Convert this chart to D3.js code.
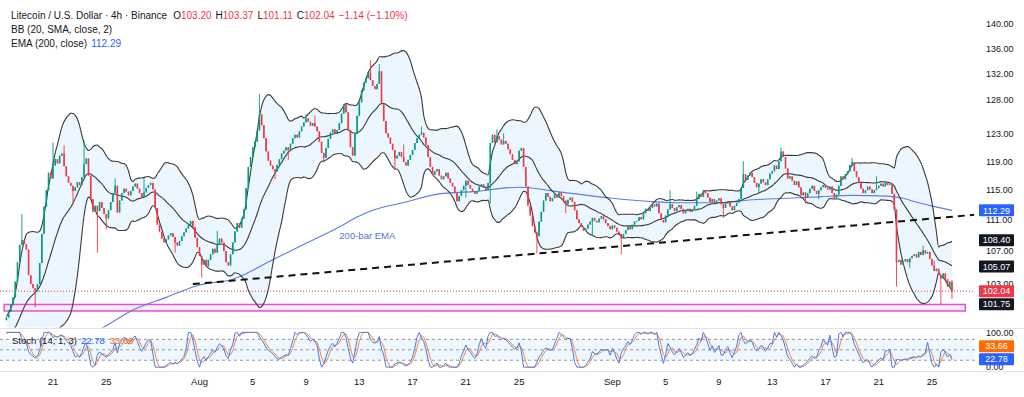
<!DOCTYPE html>
<html><head><meta charset="utf-8">
<script src="https://cdn.jsdelivr.net/npm/d3@7"></script>
<style>
body{margin:0;background:#fff;}
svg text{font-family:"Liberation Sans",Arial,sans-serif;}
</style>
</head><body>
<svg id="c" width="1024" height="397"></svg>
<script>
// ---------------- DATA ----------------
const firstIndex = -21;            // index of first visible 4h candle (0 = 21 Jul 2025 00:00 UTC)
const warmup = [94.6,95.1,94.8,95.4,95.0,95.7,96.2,95.8,96.4,96.0,96.7,97.1,96.6,97.3,97.0,97.6,98.2,97.9,98.6];
const closes = [
98.9,99.6,100.4,101.3,103.2,105.6,107.8,108.4,107.9,107.2,
104.0,102.9,102.4,102.0,102.9,105.5,109.2,112.8,115.0,117.4,
116.6,118.4,119.3,118.7,119.8,120.1,118.3,116.9,116.0,115.6,
114.9,115.4,116.1,115.7,116.8,118.6,119.4,117.0,113.8,112.1,
112.9,112.2,113.4,112.6,111.8,111.2,112.3,113.4,114.6,115.6,
112.0,113.6,114.6,115.2,114.8,114.3,114.9,115.5,115.9,115.2,
114.6,114.1,114.7,115.3,115.7,116.0,115.1,112.6,110.4,109.5,
108.6,108.1,108.5,109.0,109.3,108.8,108.1,107.7,108.3,108.9,
109.4,109.9,110.4,110.9,110.1,108.7,107.5,106.4,105.3,105.9,
105.1,105.9,106.6,107.3,106.8,107.8,108.6,108.1,107.0,105.6,
105.2,106.6,108.1,109.5,110.6,110.0,111.2,112.4,115.3,118.2,
119.6,121.0,121.8,123.4,125.8,124.2,122.3,120.4,119.1,118.4,
117.9,117.6,118.5,119.3,120.1,120.5,121.0,120.6,121.5,122.3,
122.8,122.4,123.3,124.0,124.6,125.2,124.7,124.1,124.5,124.0,
123.3,121.8,120.2,119.5,120.9,122.2,123.1,123.6,122.9,123.5,
124.5,125.9,127.3,126.1,123.4,121.0,119.8,122.9,125.6,127.6,
129.4,130.6,131.3,132.2,131.0,130.1,129.6,130.4,132.4,127.3,
124.8,123.0,122.4,121.5,120.6,119.4,119.8,120.3,119.6,118.9,
118.4,119.2,119.9,120.6,121.6,122.3,122.8,123.1,122.4,121.3,
119.6,118.2,117.1,117.6,117.9,117.0,116.5,116.9,117.4,116.6,
116.0,115.5,114.6,113.5,114.2,115.0,115.6,116.3,115.7,115.2,
114.8,114.5,114.9,115.5,115.8,115.3,115.0,116.0,121.6,122.8,
121.7,122.6,122.1,121.4,121.9,121.5,120.7,120.0,119.2,118.6,
119.0,120.5,120.9,118.2,115.5,112.9,111.6,110.2,109.4,108.9,
110.8,112.1,113.6,114.6,114.1,113.5,113.9,114.4,114.0,114.7,
114.2,113.6,113.1,113.7,114.0,113.4,112.3,111.1,110.6,110.1,
109.6,109.9,110.4,110.8,111.3,110.9,110.7,111.2,111.5,111.1,
110.6,110.2,109.8,110.3,110.0,109.5,109.2,108.6,109.2,109.7,
110.2,109.8,110.4,110.8,110.9,111.4,111.1,111.9,112.5,112.2,
112.6,113.1,112.8,113.2,111.9,111.0,110.7,111.6,112.4,113.1,
112.6,112.2,112.7,113.0,112.5,111.9,112.2,112.5,112.1,112.4,
112.9,113.8,114.5,114.1,115.0,114.6,114.0,113.4,113.8,113.2,
113.6,113.9,113.1,112.6,113.2,113.5,112.8,112.3,112.9,113.3,
113.8,115.3,117.2,116.4,117.0,117.4,116.8,116.0,115.4,115.9,
116.5,116.1,115.7,116.5,117.3,117.6,118.4,117.9,119.0,120.4,
119.6,118.0,116.6,116.9,116.3,115.7,116.2,115.4,114.3,114.7,
114.0,114.6,115.2,115.6,114.9,114.5,115.0,115.4,115.7,115.3,
115.1,115.5,114.6,113.9,114.4,115.6,116.9,116.5,117.2,117.6,
118.5,118.9,117.6,116.8,116.0,115.2,114.6,115.0,115.5,115.1,
114.6,115.0,115.3,115.6,115.9,115.5,116.0,115.7,115.8,114.5,
112.4,105.6,105.9,105.3,105.7,106.0,105.6,106.1,106.4,106.6,
106.2,106.9,106.5,107.1,106.7,106.9,106.0,105.2,104.5,104.8,
104.0,103.6,104.2,103.5,102.6,103.20,102.04];
// notable wicks (candle index, high, low)
const wickIdx  = [-14,  -8,   0,    9,    14,   20,   28,   67,   93,   100,  114,  122,  143,  147,  154,  197,  200,  218,  256,  278,  311,  328,  339,  360,  380,  392,  400,  405,
                  5,    24,   41,   55,   74,   106,  118,  158,  166,  186,  203,  231,  243,  290,  302,  318,  345,  371,  386,  397];
const wickHigh = [111.8,null,121.7,null, 122.0,null, 116.6,null, 128.8,null, 125.8,null, 134.1,133.5,null, null, 123.6,null, null, 115.0,119.0,121.0,null, 119.5,null, 107.7,null, 103.37,
                  121.3,null, 116.7,null, 109.6,null, 125.6,121.4,124.0,null, 123.0,null, null, 114.8,null, null, null, 116.9,null, 105.8];
const wickLow  = [null,100.1,null, 113.3,null, 106.8,null, 103.7,null, 116.5,null, 118.8,null, null, 117.8,113.2,null, 106.7,106.6,null, null, null, 113.2,null, 102.6,null, 100.5,101.11,
                  null, 109.8,null, 106.8,null, 119.2,null, null, null, 114.0,null, 111.9,108.9,null, 111.3,114.6,113.8,null, 104.9,null];
// 200 EMA (candle index, value)
const emaIdx = [10,23,36,51,66,81,99,114,129,137,144,159,174,189,210,230,252,268,282,300,315,331,345,360,376,383,390,405];
const emaVal = [96.0,97.8,99.8,101.3,102.8,103.5,105.9,108.0,110.1,111.4,112.3,113.4,114.5,114.8,115.4,114.7,113.9,113.5,113.3,113.3,113.7,113.9,114.1,114.3,114.2,113.9,113.3,112.29];
// trend line and support zone (candle index, price)
const trendIdx = [63,415], trendVal = [102.9,111.7];
const zoneIdx = [-22,411], zoneVal = [99.68,100.45];
const priceTicks = [140,136,132,128,123,119,115,111,107,103];
const tickDates = ["2025-07-21","2025-07-25","2025-08-01","2025-08-05","2025-08-09","2025-08-13","2025-08-17","2025-08-21","2025-08-25","2025-09-01","2025-09-05","2025-09-09","2025-09-13","2025-09-17","2025-09-21","2025-09-25"];
const tickLabels = ["21","25","Aug","5","9","13","17","21","25","Sep","5","9","13","17","21","25"];
const ohlcKeys = ["O","H","L","C"];
const ohlcVals = ["103.20","103.37","101.11","102.04"];
const changeText = "\u22121.14 (\u22121.10%)";
const lastClose = 102.04, lastEma = 112.29, bbLast = [108.40,105.07,101.75];
const stochLast = [22.78,33.66];
const emaNote = {idx:129, val:109.0, text:"200-bar EMA"};

// ---------------- SCALES ----------------
const svg = d3.select("#c");
const plotRight = 975, mainBottom = 327.5;
const STEP = 4*3600*1000, T0 = Date.UTC(2025,6,21);
const x = d3.scaleUtc().domain([new Date(Date.UTC(2025,6,21)), new Date(Date.UTC(2025,8,25))]).range([53,932]);
const y = d3.scaleLog().domain([103,140]).range([283.3,24]);
const ys = d3.scaleLinear().domain([0,100]).range([367.2,332.4]);
const xi = i => x(new Date(T0 + i*STEP));
const yp = v => v>0 ? y(v) : 2000;

// ---------------- BARS & INDICATORS ----------------
const all = warmup.concat(closes);
const base = firstIndex - warmup.length;
const bars = all.map((c,k)=>{const o = k>0?all[k-1]:c; return {i:base+k,o,c,h:Math.max(o,c),l:Math.min(o,c)};});
wickIdx.forEach((wi,j)=>{const b=bars[wi-base]; if(!b) return; if(wickHigh[j]!=null) b.h=Math.max(b.h,wickHigh[j]); if(wickLow[j]!=null) b.l=Math.min(b.l,wickLow[j]);});
bars.forEach((b,k)=>{ if(k>=19){const w=all.slice(k-19,k+1); const m=d3.mean(w); const sd=Math.sqrt(d3.mean(w,v=>(v-m)*(v-m))); b.mid=m; b.up=m+2*sd; b.lo=m-2*sd;}});
bars.forEach((b,k)=>{ if(k>=13){const w=bars.slice(k-13,k+1); const hh=d3.max(w,d=>d.h), ll=d3.min(w,d=>d.l); b.k = hh>ll?100*(b.c-ll)/(hh-ll):50;}});
bars.forEach((b,k)=>{ if(k>=15) b.d=(bars[k].k+bars[k-1].k+bars[k-2].k)/3;});
const vis = bars.filter(b=>b.i>=firstIndex);

// ---------------- CLIPS ----------------
const defs = svg.append("defs");
defs.append("clipPath").attr("id","cm").append("rect").attr("x",0).attr("y",0).attr("width",plotRight).attr("height",mainBottom);
defs.append("clipPath").attr("id","cs").append("rect").attr("x",0).attr("y",329).attr("width",plotRight).attr("height",41);

// pane separators
svg.append("line").attr("x1",0).attr("x2",1024).attr("y1",328.5).attr("y2",328.5).attr("stroke","#e0e3eb");
svg.append("line").attr("x1",0).attr("x2",1024).attr("y1",371.5).attr("y2",371.5).attr("stroke","#e0e3eb");

const gm = svg.append("g").attr("clip-path","url(#cm)");

// BB fill
gm.append("path").datum(vis).attr("fill","rgba(33,150,243,0.09)")
  .attr("d", d3.area().x(d=>xi(d.i)).y0(d=>yp(d.lo)).y1(d=>yp(d.up)).curve(d3.curveMonotoneX));

// support zone
gm.append("rect").attr("x",xi(zoneIdx[0])).attr("width",xi(zoneIdx[1])-xi(zoneIdx[0]))
  .attr("y",y(zoneVal[1])).attr("height",y(zoneVal[0])-y(zoneVal[1]))
  .attr("fill","#fbe8fa").attr("stroke","#d957d4").attr("stroke-width",1.5);

// last price dotted line
gm.append("line").attr("x1",0).attr("x2",plotRight).attr("y1",y(lastClose)).attr("y2",y(lastClose))
  .attr("stroke","#f23645").attr("stroke-width",1).attr("stroke-dasharray","1,2");

// EMA
const emaPts = emaIdx.map((d,j)=>({i:d,v:emaVal[j]}));
gm.append("path").datum(emaPts).attr("fill","none").attr("stroke","#5b7ee8").attr("stroke-width",1.1)
  .attr("d", d3.line().x(d=>xi(d.i)).y(d=>y(d.v)).curve(d3.curveMonotoneX));

// BB lines
["up","mid","lo"].forEach(key=>{
  gm.append("path").datum(vis).attr("fill","none").attr("stroke","#3a3a3a").attr("stroke-width",1.1)
    .attr("d", d3.line().x(d=>xi(d.i)).y(d=>yp(d[key])).curve(d3.curveMonotoneX));
});

// trend line
gm.append("line").attr("x1",xi(trendIdx[0])).attr("x2",xi(trendIdx[1])).attr("y1",y(trendVal[0])).attr("y2",y(trendVal[1]))
  .attr("stroke","#111").attr("stroke-width",2).attr("stroke-dasharray","7,5");

// candles
const cg = gm.append("g");
vis.forEach(b=>{
  const up = b.c>=b.o, col = up?"#089981":"#f23645", cx = xi(b.i);
  cg.append("line").attr("x1",cx).attr("x2",cx).attr("y1",y(b.h)).attr("y2",y(b.l)).attr("stroke",col).attr("stroke-width",0.9);
  const t = y(Math.max(b.o,b.c)), bt = y(Math.min(b.o,b.c));
  cg.append("rect").attr("x",cx-0.8).attr("width",1.6).attr("y",t).attr("height",Math.max(0.8,bt-t)).attr("fill",col);
});

// EMA note
gm.append("text").attr("x",xi(emaNote.idx)).attr("y",y(emaNote.val)+3.5).attr("font-size","9.5px").attr("fill","#4f72e3").text(emaNote.text);

// ---------------- LEGEND ----------------
const lg = svg.append("text").attr("x",11).attr("y",18.5).attr("font-size","10px").attr("fill","#131722");
lg.append("tspan").text("Litecoin / U.S. Dollar \u00b7 4h \u00b7 Binance");
ohlcKeys.forEach((k,j)=>{
  lg.append("tspan").attr("dx", j===0?6:4).text(k);
  lg.append("tspan").attr("fill","#f23645").text(ohlcVals[j]);
});
lg.append("tspan").attr("dx",4).attr("fill","#f23645").text(changeText);
svg.append("text").attr("x",11).attr("y",33).attr("font-size","10px").attr("fill","#131722").text("BB (20, SMA, close, 2)");
const l3 = svg.append("text").attr("x",11).attr("y",47).attr("font-size","10px").attr("fill","#131722");
l3.append("tspan").text("EMA (200, close)");
l3.append("tspan").attr("dx",4).attr("fill","#2962ff").text(lastEma.toFixed(2));

// ---------------- STOCH PANE ----------------
const gs = svg.append("g").attr("clip-path","url(#cs)");
gs.append("rect").attr("x",0).attr("width",plotRight).attr("y",ys(80)).attr("height",ys(20)-ys(80)).attr("fill","rgba(33,150,243,0.08)");
[80,50,20].forEach(v=>gs.append("line").attr("x1",0).attr("x2",plotRight).attr("y1",ys(v)).attr("y2",ys(v))
  .attr("stroke","#9598a1").attr("stroke-dasharray","3,3").attr("stroke-width",1));
const sl = svg.append("text").attr("x",12).attr("y",343.5).attr("font-size","9.5px").attr("fill","#131722");
sl.append("tspan").text("Stoch (14, 1, 3)");
sl.append("tspan").attr("dx",4).attr("fill","#2962ff").text(stochLast[0].toFixed(2));
sl.append("tspan").attr("dx",5).attr("fill","#ff6d00").text(stochLast[1].toFixed(2));
const sv = vis.filter(b=>b.d!=null);
gs.append("path").datum(sv).attr("fill","none").attr("stroke","#f08a44").attr("stroke-width",1)
  .attr("d", d3.line().x(d=>xi(d.i)).y(d=>ys(d.d)));
gs.append("path").datum(sv).attr("fill","none").attr("stroke","#4a78ee").attr("stroke-width",1)
  .attr("d", d3.line().x(d=>xi(d.i)).y(d=>ys(d.k)));

// ---------------- AXES ----------------
const ax = svg.append("g").attr("font-size","9px").attr("fill","#131722");
priceTicks.forEach(v=>ax.append("text").attr("x",986).attr("y",y(v)+3.2).text(v.toFixed(2)));
[100,0].forEach(v=>ax.append("text").attr("x",986).attr("y",ys(v)+3.2).text(v.toFixed(2)));

const tx = svg.append("g").attr("font-size","9.5px").attr("fill","#131722").attr("text-anchor","middle");
tickDates.forEach((d,j)=>{
  const dt = new Date(d+"T00:00:00Z");
  tx.append("text").attr("x",x(dt)).attr("y",385).text(tickLabels[j]);
});

// value boxes with simple collision handling
function boxes(list, scale){
  const placed=[];
  list.forEach(L=>{
    let cy = scale(L.v);
    let moved=true, guard=0;
    while(moved && guard<10){ moved=false; guard++;
      placed.forEach(p=>{ if(Math.abs(cy-p)<13){ cy = cy<p ? p-13 : p+13; moved=true; } });
    }
    placed.push(cy);
    svg.append("rect").attr("x",979).attr("y",cy-6).attr("width",35).attr("height",12).attr("rx",1).attr("fill",L.c);
    svg.append("text").attr("x",996.5).attr("y",cy+3.2).attr("text-anchor","middle").attr("font-size","9px").attr("fill","#fff").text(L.v.toFixed(2));
  });
}
boxes([{v:lastClose,c:"#f23645"},{v:lastEma,c:"#2962ff"},{v:bbLast[0],c:"#131722"},{v:bbLast[1],c:"#131722"},{v:bbLast[2],c:"#131722"}], y);
boxes([{v:stochLast[0],c:"#2962ff"},{v:stochLast[1],c:"#ff6d00"}], ys);
</script>
</body></html>
